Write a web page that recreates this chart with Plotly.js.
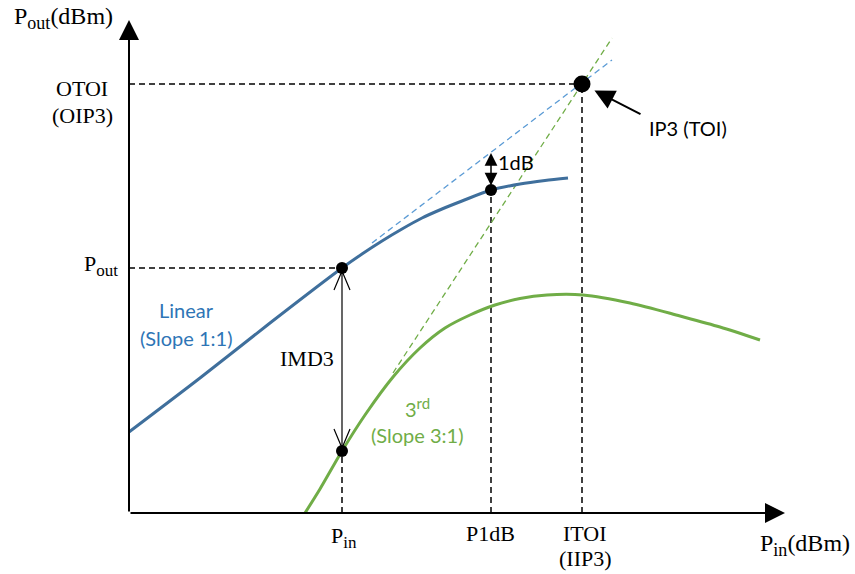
<!DOCTYPE html>
<html>
<head>
<meta charset="utf-8">
<script src="https://cdn.plot.ly/plotly-3.0.1.min.js"></script>
<style>html,body{margin:0;padding:0;background:#fff;}#chart{width:855px;height:574px;}</style>
</head>
<body>
<div id="chart"></div>
<script>
// ---- data (diagram units: origin at the axes' corner) ----
const linearX = [0, 71, 141, 213, 233, 253, 273, 293, 313, 333, 362, 391, 416, 439];
const linearY = [81, 135, 190, 245, 259, 272, 284, 295, 304, 312, 323, 329, 332.5, 335];
const linearExtX = [243, 483];
const linearExtY = [270, 453];
const thirdX = [176, 191, 213, 236, 264, 291, 316, 341, 366, 391, 418, 454, 501, 551, 591, 631];
const thirdY = [0, 24, 62, 98, 136, 165, 185, 198, 208, 214.5, 218, 218, 210, 197, 186, 173];
const thirdExtX = [264, 483];
const thirdExtY = [140, 475];
const keyPointX = [213, 213, 362];
const keyPointY = [245, 62, 323];
const ip3X = [453];
const ip3Y = [429];
const p1dbLinearY = 360;
const axisEndX = 656;
const axisEndY = 493;

const BLUE = '#3f6f9c', BLUE_D = '#5b9bd5', GREEN = '#70ad47', BLUE_TXT = '#2e75b6';
const serif = 'Liberation Serif, Times New Roman, serif';
const sans = 'Lato, Carlito, Calibri, sans-serif';
const DASH = {color: '#000', width: 1.5, dash: '6px,4px'};

// open "V" heads for the IMD3 double arrow (sizes in diagram units = pixels)
const vHalf = 8, vLen = 19, vGap = 3;
const topTipY = keyPointY[0] - vGap, botTipY = keyPointY[1] + vGap;
const vx = keyPointX[0];

const traces = [
  {x: [0, keyPointX[0]], y: [keyPointY[0], keyPointY[0]], mode: 'lines', line: DASH},
  {x: [0, ip3X[0]], y: [ip3Y[0], ip3Y[0]], mode: 'lines', line: DASH},
  {x: [keyPointX[1], keyPointX[1]], y: [0, keyPointY[1]], mode: 'lines', line: DASH},
  {x: [keyPointX[2], keyPointX[2]], y: [0, keyPointY[2]], mode: 'lines', line: DASH},
  {x: [ip3X[0], ip3X[0]], y: [0, ip3Y[0]], mode: 'lines', line: DASH},
  {x: linearExtX, y: linearExtY, mode: 'lines', line: {color: BLUE_D, width: 1.3, dash: '6px,4px'}},
  {x: thirdExtX, y: thirdExtY, mode: 'lines', line: {color: GREEN, width: 1.3, dash: '6px,4px'}},
  {x: linearX, y: linearY, mode: 'lines', line: {color: BLUE, width: 3, shape: 'spline', smoothing: 0.8}},
  {x: thirdX, y: thirdY, mode: 'lines', line: {color: GREEN, width: 3, shape: 'spline', smoothing: 0.8}},
  // IMD3 arrow shaft and open heads
  {x: [vx, vx], y: [topTipY, botTipY], mode: 'lines', line: {color: '#000', width: 1.2}},
  {x: [vx - vHalf, vx, vx + vHalf], y: [topTipY - vLen, topTipY, topTipY - vLen], mode: 'lines', line: {color: '#000', width: 1.2}},
  {x: [vx - vHalf, vx, vx + vHalf], y: [botTipY + vLen, botTipY, botTipY + vLen], mode: 'lines', line: {color: '#000', width: 1.2}},
  {x: keyPointX, y: keyPointY, mode: 'markers', marker: {color: '#000', size: 12}},
  {x: ip3X, y: ip3Y, mode: 'markers', marker: {color: '#000', size: 17}}
];

function txt(x, y, text, font, extra) {
  return Object.assign({x: x, y: y, xref: 'x', yref: 'y', text: text, showarrow: false, font: font}, extra || {});
}
const tf = {family: serif, size: 22, color: '#000'};
const sfont = (c) => ({family: sans, size: 20, color: c});

const annotations = [
  {x: axisEndX, y: 0, ax: 0, ay: 0, xref: 'x', yref: 'y', axref: 'x', ayref: 'y', showarrow: true, arrowhead: 2, arrowsize: 2, arrowwidth: 2, arrowcolor: '#000', text: ''},
  {x: 0, y: axisEndY, ax: 0, ay: 0, xref: 'x', yref: 'y', axref: 'x', ayref: 'y', showarrow: true, arrowhead: 2, arrowsize: 2, arrowwidth: 2, arrowcolor: '#000', text: ''},
  {x: keyPointX[2], y: p1dbLinearY, ax: keyPointX[2], ay: keyPointY[2], xref: 'x', yref: 'y', axref: 'x', ayref: 'y', showarrow: true, arrowhead: 2, startarrowhead: 2, arrowside: 'end+start', arrowsize: 1.7, startarrowsize: 1.7, arrowwidth: 1.5, arrowcolor: '#000', text: '', startstandoff: 3},
  {x: ip3X[0], y: ip3Y[0], ax: ip3X[0] + 60, ay: ip3Y[0] - 31, xref: 'x', yref: 'y', axref: 'x', ayref: 'y', showarrow: true, arrowhead: 2, arrowsize: 2, arrowwidth: 2, arrowcolor: '#000', text: '', standoff: 14},
  txt(-66, 495, 'P<sub><span style="font-size:18px">out</span></sub>(dBm)', {family: serif, size: 24, color: '#000'}),
  txt(-47, 425, 'OTOI', tf),
  txt(-47, 398, '(OIP3)', tf),
  txt(-28, 248, 'P<sub><span style="font-size:17px">out</span></sub>', tf),
  txt(215, -24, 'P<sub><span style="font-size:17px">in</span></sub>', tf),
  txt(361, -20, 'P1dB', tf),
  txt(456, -20, 'ITOI', tf),
  txt(456, -45, '(IIP3)', tf),
  txt(676, -32, 'P<sub><span style="font-size:18px">in</span></sub>(dBm)', {family: serif, size: 24, color: '#000'}),
  txt(207, 155, 'IMD3', tf, {xanchor: 'right'}),
  txt(57, 203, 'Linear', sfont(BLUE_TXT)),
  txt(57, 175, '(Slope 1:1)', sfont(BLUE_TXT)),
  txt(288, 106, '3<sup><span style="font-size:15px">rd</span></sup>', sfont(GREEN)),
  txt(288, 78, '(Slope 3:1)', sfont(GREEN)),
  txt(387, 351, '1dB', sfont('#000')),
  txt(559, 385, 'IP3 (TOI)', sfont('#000'))
];

const layout = {
  width: 855, height: 574,
  margin: {l: 0, r: 0, t: 0, b: 0},
  paper_bgcolor: '#fff', plot_bgcolor: '#fff',
  showlegend: false,
  xaxis: {range: [-129, 726], visible: false, fixedrange: true},
  yaxis: {range: [-61, 513], visible: false, fixedrange: true},
  annotations: annotations
};
traces.forEach(t => { t.hoverinfo = 'skip'; });
Plotly.newPlot('chart', traces, layout, {staticPlot: true});
</script>
</body>
</html>
